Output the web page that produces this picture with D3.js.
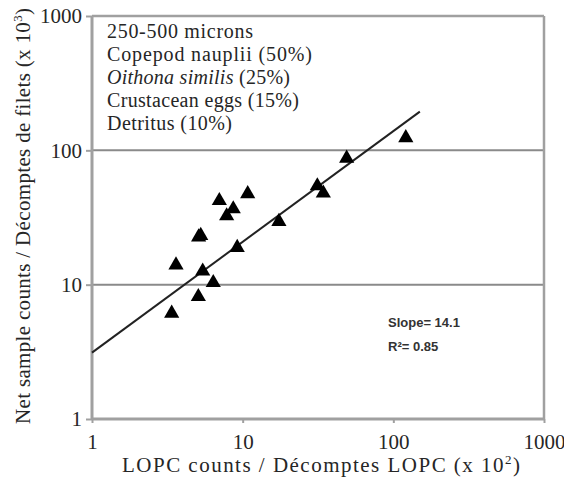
<!DOCTYPE html>
<html><head><meta charset="utf-8">
<script src="https://d3js.org/d3.v7.min.js"></script>
<style>body{margin:0;background:#fff}svg{display:block}</style>
</head><body>
<svg id="c" width="564" height="481"></svg>
<script>
// Data
const lopc   = [49, 31.3, 34.3, 17.4, 10.8, 7.0, 8.66, 7.83, 5.27, 5.1, 9.2, 3.61, 5.43, 6.38, 5.08, 3.38, 121];
const netCnt = [87.3, 54.3, 48, 29.5, 47.4, 42.2, 36.6, 32.5, 23.2, 22.6, 18.9, 14.0, 12.6, 10.35, 8.14, 6.12, 124];
const fitX = [1, 150];
const fitY = [3.12, 194];
const xTicks = [1, 10, 100, 1000];
const yTicks = [1, 10, 100, 1000];
const gridY = [10, 100];
const legendLines = [
  [{t:"250-500 microns"}],
  [{t:"Copepod nauplii (50%)"}],
  [{t:"Oithona similis", i:true}, {t:" (25%)"}],
  [{t:"Crustacean eggs (15%)"}],
  [{t:"Detritus (10%)"}]
];
const legendWidths = [146, 205, 183, 192, 125];
const statLines = ["Slope= 14.1", "R²= 0.85"];

const svg = d3.select("#c");
const L = 92, R = 544, T = 16, B = 419;
const x = d3.scaleLog().domain([1, 1000]).range([L, R]);
const y = d3.scaleLog().domain([1, 1000]).range([B, T]);
const serif = "'Liberation Serif', 'DejaVu Serif', serif";
const grey = "#a0a0a0";
const ink = "#262626";

// gridlines
svg.selectAll(".grid").data(gridY).enter().append("line")
  .attr("x1", L).attr("x2", R).attr("y1", d => y(d)).attr("y2", d => y(d))
  .attr("stroke", "#8a8a8a").attr("stroke-width", 2);

// frame: top and right
svg.append("line").attr("x1", L).attr("x2", R).attr("y1", T).attr("y2", T).attr("stroke", grey).attr("stroke-width", 2.5);
svg.append("line").attr("x1", R).attr("x2", R).attr("y1", T).attr("y2", B).attr("stroke", grey).attr("stroke-width", 2.5);

// axes
const xAxis = d3.axisBottom(x).tickValues(xTicks).tickFormat(d3.format("d")).tickSize(4).tickPadding(11);
const yAxis = d3.axisLeft(y).tickValues(yTicks).tickFormat(d3.format("d")).tickSize(6).tickPadding(4);
const gx = svg.append("g").attr("transform", `translate(0,${B})`).call(xAxis);
const gy = svg.append("g").attr("transform", `translate(${L},0)`).call(yAxis);
[gx, gy].forEach(g => {
  g.select(".domain").attr("stroke", grey).attr("stroke-width", 3);
  g.selectAll(".tick line").attr("stroke", grey).attr("stroke-width", 2);
  g.selectAll(".tick text").attr("font-family", serif).attr("font-size", 21).attr("fill", ink);
});
gx.select(".domain").attr("d", `M${L},0H${R}`);
gy.select(".domain").attr("d", `M0,${B}V${T}`);

// regression line
svg.append("line")
  .attr("x1", x(fitX[0])).attr("y1", y(fitY[0]))
  .attr("x2", x(fitX[1])).attr("y2", y(fitY[1]))
  .attr("stroke", "#222").attr("stroke-width", 2);

// triangles
const tri = d3.symbol().type(d3.symbolTriangle).size(100);
svg.selectAll(".pt").data(lopc).enter().append("path")
  .attr("d", tri)
  .attr("transform", (d, i) => `translate(${x(d)},${y(netCnt[i])})`)
  .attr("fill", "#000");

// legend text
legendLines.forEach((parts, k) => {
  const lg = svg.append("text").attr("x", 107).attr("y", 38 + k * 23)
    .attr("font-family", serif).attr("font-size", 20).attr("fill", ink)
    .attr("textLength", legendWidths[k]).attr("lengthAdjust", "spacing");
  parts.forEach(p => {
    const ts = lg.append("tspan").text(p.t);
    if (p.i) ts.attr("font-style", "italic");
  });
});

// stats
statLines.forEach((s, k) => {
  svg.append("text").attr("x", 388).attr("y", 327 + k * 24)
    .attr("font-family", "'Liberation Sans', Arial, sans-serif").attr("font-weight", "bold")
    .attr("font-size", 13).attr("fill", "#333").text(s);
});

// axis titles
svg.append("text").attr("x", 321).attr("y", 472).attr("text-anchor", "middle")
  .attr("font-family", serif).attr("font-size", 21).attr("fill", ink)
  .attr("textLength", 398).attr("lengthAdjust", "spacing")
  .html('LOPC counts / Décomptes LOPC (x 10<tspan dy="-8" font-size="13">2</tspan><tspan dy="8">)</tspan>');
svg.append("text").attr("transform", `translate(30,216) rotate(-90)`).attr("text-anchor", "middle")
  .attr("font-family", serif).attr("font-size", 21).attr("fill", ink)
  .attr("textLength", 416).attr("lengthAdjust", "spacing")
  .html('Net sample counts / Décomptes de filets (x 10<tspan dy="-8" font-size="13">3</tspan><tspan dy="8">)</tspan>');
</script>
</body></html>
